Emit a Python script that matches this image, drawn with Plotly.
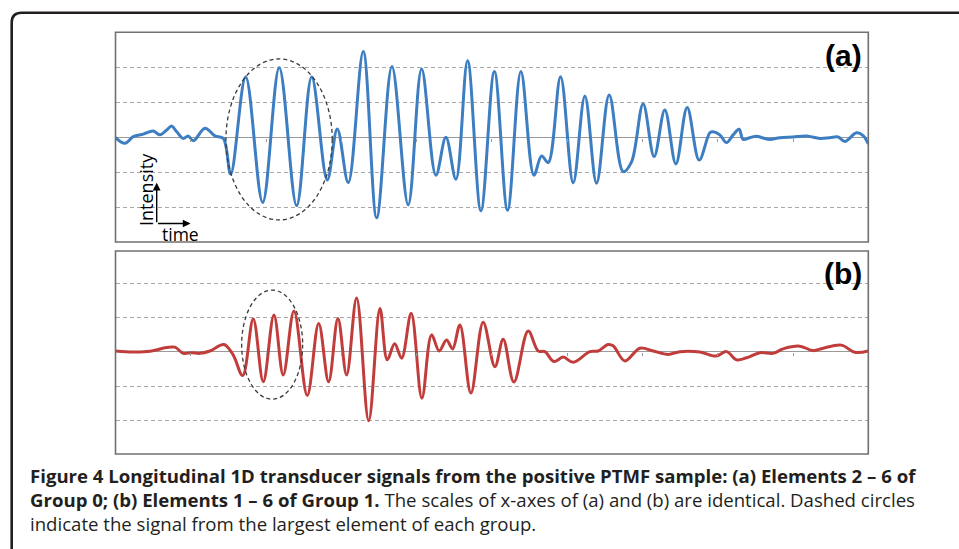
import plotly.graph_objects as go

W, H = 959, 549

# ---- data (time: 0..100 = full record; intensity in grid units) ----
time_a = [0.0, 1.26, 2.36, 3.69, 5.02, 5.91, 6.80, 7.46, 8.13, 9.00, 9.67, 10.33, 11.89, 13.21, 14.32,
          15.30, 17.29, 19.55, 21.75, 24.06, 26.06, 28.13, 29.46, 30.92, 32.91, 34.69, 36.72, 38.88,
          40.66, 42.56, 43.89, 45.22, 46.77, 48.54, 50.33, 52.08, 53.85, 55.58, 56.60, 57.48, 59.12,
          60.80, 62.35, 63.90, 65.58, 67.44, 68.55, 70.09, 71.55, 72.97, 74.44, 75.94, 77.53, 78.95,
          79.39, 80.28, 81.17, 82.05, 82.84, 83.37, 84.26, 85.15, 86.03, 86.92, 88.25, 90.01, 91.79,
          93.56, 94.89, 95.99, 96.88, 98.43, 99.31, 100.0]
intensity_a = [0.0, -0.16, 0.03, 0.10, 0.19, 0.08, 0.22, 0.33, 0.17, -0.02, 0.05, -0.09, 0.27, 0.05, -0.02,
               -1.04, 1.73, -1.85, 2.00, -1.94, 1.73, -1.21, 0.25, -1.28, 2.46, -2.29, 2.03, -1.92,
               1.96, -1.07, 0.01, -1.19, 2.20, -2.09, 1.89, -2.07, 1.89, -1.07, -0.52, -0.71, 1.74,
               -1.29, 1.19, -1.30, 1.22, -0.97, -0.69, 0.96, -0.54, 0.79, -0.75, 0.86, -0.64, 0.14,
               0.17, 0.08, -0.14, 0.08, 0.24, -0.05, 0.0, 0.04, -0.01, -0.05, 0.0, 0.02, 0.05,
               -0.02, 0.0, 0.02, -0.11, 0.14, 0.06, -0.18]

time_b = [0.0, 2.36, 4.58, 6.80, 7.90, 9.00, 10.12, 11.22, 12.55, 14.41, 15.64, 16.89, 18.30, 19.63,
          21.05, 22.28, 23.71, 25.47, 26.99, 28.31, 29.55, 30.70, 32.03, 33.63, 35.13, 36.10, 37.08,
          38.01, 39.28, 40.70, 41.99, 43.00, 43.98, 44.78, 45.75, 47.21, 48.84, 50.40, 51.50, 52.92,
          54.82, 56.15, 57.04, 58.23, 59.47, 60.80, 63.01, 64.12, 65.44, 66.11, 67.66, 69.65, 71.42,
          73.41, 74.97, 77.62, 79.75, 81.17, 82.50, 83.82, 85.59, 87.36, 88.68, 90.90, 92.67, 94.00,
          96.44, 98.21, 100.0]
intensity_b = [0.03, 0.0, 0.02, 0.13, 0.14, -0.04, -0.02, -0.04, 0.03, 0.22, -0.09, -0.69, 0.96, -0.87,
               1.08, -0.67, 1.20, -1.27, 0.83, -0.87, 0.98, -0.67, 1.58, -2.01, 1.27, -0.23, 0.24,
               -0.18, 1.13, -1.35, 0.50, 0.03, 0.35, 0.09, 0.79, -1.20, 0.87, -0.43, 0.37, -0.88,
               0.61, 0.03, 0.01, -0.28, -0.15, -0.30, 0.01, 0.03, 0.22, 0.18, -0.26, 0.11, 0.03,
               -0.07, 0.01, 0.0, -0.12, 0.01, -0.23, -0.17, -0.02, -0.04, 0.09, 0.17, 0.04, 0.11,
               0.20, -0.01, 0.03]

# dashed circles: [x0, x1, y_bottom, y_top]
circle_a = [14.67, 28.79, -2.35, 2.25]
circle_b = [16.76, 24.86, -1.38, 1.81]

grid_vals = [-2, -1, 1, 2]
panel_labels = ["(a)", "(b)"]
caption_lines = [
    "<b>Figure 4 Longitudinal 1D transducer signals from the positive PTMF sample: (a) Elements 2 \u2013 6 of</b>",
    "<b>Group 0; (b) Elements 1 \u2013 6 of Group 1.</b> The scales of x-axes of (a) and (b) are identical. Dashed circles",
    "indicate the signal from the largest element of each group.",
]


def X(p):
    return p / W


def Y(p):
    return 1 - p / H


BLUE = "#3d7dc1"
RED = "#c13d3c"
GRID = "#a8a8a8"
BORDER = "#707070"
INK = "#231f20"

xdom = [X(115.5), X(868.3)]
ya_dom = [Y(242.0), Y(32.3)]
yb_dom = [Y(454.0), Y(251.0)]
ya_rng = [-2.98, 3.01]
yb_rng = [-2.98, 2.95]


def zero_pos(dom, rng):
    return dom[0] + (dom[1] - dom[0]) * (0 - rng[0]) / (rng[1] - rng[0])


fig = go.Figure()
fig.add_trace(go.Scatter(x=time_a, y=intensity_a, xaxis="x", yaxis="y", mode="lines",
                         line=dict(color=BLUE, width=3, shape="spline", smoothing=1.0),
                         showlegend=False, hoverinfo="skip"))
fig.add_trace(go.Scatter(x=time_b, y=intensity_b, xaxis="x2", yaxis="y2", mode="lines",
                         line=dict(color=RED, width=3, shape="spline", smoothing=1.0),
                         showlegend=False, hoverinfo="skip"))

xcommon = dict(domain=xdom, range=[0, 100], showgrid=False, zeroline=False, showline=False,
               showticklabels=False, ticks="outside", ticklen=3, tickwidth=1, tickcolor="#9a9a9a",
               tick0=0, dtick=10, anchor="free")
ycommon = dict(showgrid=True, gridcolor=GRID, gridwidth=1, griddash="4px,3px", tickvals=grid_vals,
               showticklabels=False, ticks="", zeroline=True, zerolinecolor="#9a9a9a",
               zerolinewidth=1.3, showline=False, anchor="free", position=xdom[0])

fig.update_layout(
    width=W, height=H, margin=dict(l=0, r=0, t=0, b=0),
    paper_bgcolor="white", plot_bgcolor="white", showlegend=False,
    xaxis=dict(**xcommon, position=zero_pos(ya_dom, ya_rng)),
    yaxis=dict(**ycommon, domain=ya_dom, range=ya_rng),
    xaxis2=dict(**xcommon, position=zero_pos(yb_dom, yb_rng)),
    yaxis2=dict(**ycommon, domain=yb_dom, range=yb_rng),
)

shapes = []
# panel borders
for xr, yr in (("x", "y"), ("x2", "y2")):
    shapes.append(dict(type="rect", xref=f"{xr} domain", yref=f"{yr} domain", x0=0, x1=1, y0=0, y1=1,
                       line=dict(color=BORDER, width=1.6), layer="above"))
# dashed circles
for (c, xr, yr) in ((circle_a, "x", "y"), (circle_b, "x2", "y2")):
    shapes.append(dict(type="circle", xref=xr, yref=yr, x0=c[0], x1=c[1], y0=c[2], y1=c[3],
                       line=dict(color="#3a3a3a", width=1.3, dash="4px,3px"), layer="above"))
# outer rounded frame (extends beyond the picture)
lx, ty, r = 11.7, 12.7, 10
path = (f"M {X(lx)},{Y(600)} L {X(lx)},{Y(ty + r)} Q {X(lx)},{Y(ty)} {X(lx + r)},{Y(ty)} "
        f"L {X(1000)},{Y(ty)}")
shapes.append(dict(type="path", xref="paper", yref="paper", path=path,
                   line=dict(color=INK, width=2.6)))

annotations = []
# panel labels
for lab, yc in zip(panel_labels, (55.0, 273.5)):
    annotations.append(dict(text=f"<b>{lab}</b>", xref="paper", yref="paper", x=X(864), y=Y(yc),
                            xanchor="right", yanchor="middle", showarrow=False,
                            font=dict(family="Liberation Sans", size=30, color="black")))
# axis hint (Intensity / time with arrows)
annotations.append(dict(text="Intensity", xref="paper", yref="paper", x=X(146), y=Y(190),
                        xanchor="center", yanchor="middle", textangle=-90, showarrow=False,
                        font=dict(family="Open Sans", size=18, color="black")))
annotations.append(dict(text="time", xref="paper", yref="paper", x=X(180.5), y=Y(233.5),
                        xanchor="center", yanchor="middle", showarrow=False,
                        font=dict(family="Open Sans", size=17.5, color="black")))
annotations.append(dict(text="", xref="paper", yref="paper", x=X(156.7), y=Y(182.7), ax=0, ay=41,
                        showarrow=True, arrowhead=2, arrowsize=1.1, arrowwidth=1.4, arrowcolor="black",
                        standoff=0, startstandoff=0))
annotations.append(dict(text="", xref="paper", yref="paper", x=X(190.5), y=Y(223.5), ax=-34, ay=0,
                        showarrow=True, arrowhead=2, arrowsize=1.1, arrowwidth=1.4, arrowcolor="black",
                        standoff=0, startstandoff=0))
# caption (one block, three lines)
annotations.append(dict(text="<br>".join(caption_lines), xref="paper", yref="paper", x=X(28.3), y=Y(499.5),
                        xanchor="left", yanchor="middle", showarrow=False, align="left",
                        font=dict(family="Open Sans", size=18.6, color=INK)))

fig.update_layout(shapes=shapes, annotations=annotations)

fig.write_html("out.html", config={"displayModeBar": False},
               post_script="document.body.style.margin='0';")
